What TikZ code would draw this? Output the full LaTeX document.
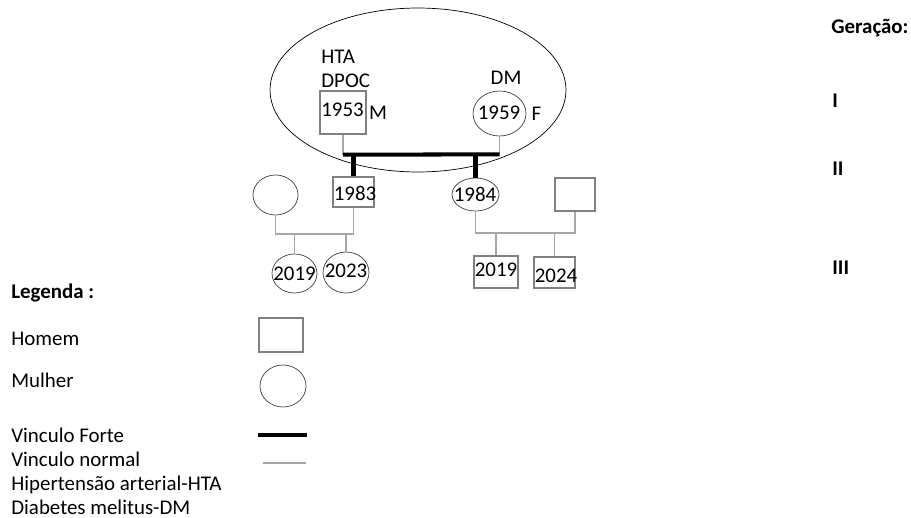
\documentclass[tikz,border=0pt]{standalone}
\usepackage{fontspec}
\setmainfont{Carlito}
\usepackage{tikz}
\usetikzlibrary{positioning,shapes.geometric}

\begin{document}
\begin{tikzpicture}[
  x=0.02cm, y=-0.02cm,
  font=\fontsize{11.9}{13.7}\selectfont,
  man/.style={draw=black!50, thick, rectangle, inner sep=0pt},
  woman/.style={draw=black!75, ellipse, inner sep=0pt},
  txt/.style={inner sep=0pt},
  lbl/.style={inner sep=0pt, anchor=base west},
  strong/.style={line width=2.3pt},
  normal/.style={draw=black!35, thick}
]
\useasboundingbox (0,0) rectangle (911,517);

% household
\node[draw, ellipse, minimum width=5.92cm, minimum height=3.28cm] (house) at (418,90) {};

% generation I
\node[man, minimum width=0.92cm, minimum height=0.86cm] (gf) at (343,112.5) {};
\node[txt] (gfyear) at (342.5,110) {1953};
\node[txt, right=0.04cm of gf] (gfsex) {M};
\node[inner sep=0pt, anchor=west, align=left] (gfdx) at (321,68.5) {HTA\\DPOC};
\node[woman, minimum width=1.06cm, minimum height=0.9cm] (gm) at (499.5,113.5) {};
\node[txt] (gmyear) at (499,113) {1959};
\node[txt, right=0.1cm of gm] (gmsex) {F};
\node[txt] (gmdx) at (506,78) {DM};

% generation II
\node[man, minimum width=0.82cm, minimum height=0.6cm] (son) at (353.5,192) {};
\node[txt] (sonyear) at (355,193) {1983};
\node[woman, minimum width=0.9cm, minimum height=0.8cm] (sonwife) at (275.5,195) {};
\node[woman, minimum width=0.94cm, minimum height=0.66cm] (dau) at (475.5,194.5) {};
\node[txt] (dauyear) at (475,194) {1984};
\node[man, minimum width=0.8cm, minimum height=0.66cm] (dauhusb) at (575,194.5) {};

% generation III
\node[woman, minimum width=0.9cm, minimum height=0.78cm] (gcA) at (294.5,273.5) {};
\node[txt] at (gcA) {2019};
\node[woman, minimum width=0.92cm, minimum height=0.82cm] (gcB) at (346,272.5) {};
\node[txt] at (346,271) {2023};
\node[man, minimum width=0.88cm, minimum height=0.64cm] (gcC) at (496,272) {};
\node[txt] at (496,270) {2019};
\node[man, minimum width=0.82cm, minimum height=0.62cm] (gcD) at (554.5,272.5) {};
\node[txt] at (556,276) {2024};

% couple
\path (gf.south) ++(0,20) coordinate (wedL);
\path (gm.south) ++(0,18) coordinate (wedR);
\draw[normal] (gf.south) -- (wedL);
\draw[normal] (gm.south) -- (wedR);
\draw[strong] (wedL) -- (wedR);
\draw[strong] (son.north |- wedL) -- (son.north);
\draw[strong] (dau.north |- wedL) -- (dau.north);

% children
\coordinate (barL) at (0,234);
\coordinate (barR) at (0,233);
\draw[normal] (sonwife.south) -- (sonwife.south |- barL) -- (son.south |- barL) -- (son.south);
\draw[normal] (gcA.north |- barL) -- (gcA.north);
\draw[normal] (gcB.north |- barL) -- (gcB.north);
\draw[normal] (dau.south) -- (dau.south |- barR) -- (dauhusb.south |- barR) -- (dauhusb.south);
\draw[normal] (gcC.north |- barR) -- (gcC.north);
\draw[normal] (gcD.north |- barR) -- (gcD.north);

% generations
\node[lbl] (gen) at (831,34) {\bfseries Geração:};
\node[lbl] (genI) at (832,107) {\bfseries I};
\node[lbl] (genII) at (832,175) {\bfseries II};
\node[lbl] (genIII) at (832,274) {\bfseries III};

% legend
\node[lbl] (leg) at (11,298) {\bfseries Legenda :};
\node[lbl] (legman) at (11,345) {Homem};
\node[lbl] (legwoman) at (11,387) {Mulher};
\node[lbl] (legstrong) at (11,442) {Vinculo Forte};
\node[lbl] (legnormal) at (11,466) {Vinculo normal};
\node[lbl] (leghta) at (11,490) {Hipertensão arterial-HTA};
\node[lbl] (legdm) at (11,514) {Diabetes melitus-DM};
\node[man, minimum width=0.88cm, minimum height=0.68cm] (legbox) at (281,335) {};
\node[woman, minimum width=0.92cm, minimum height=0.84cm] (legcirc) at (283,386) {};
\coordinate (lsA) at (258,435);
\coordinate (lsB) at (307,435);
\coordinate (lnA) at (263,463);
\coordinate (lnB) at (306,463);
\draw[strong] (lsA) -- (lsB);
\draw[normal] (lnA) -- (lnB);
\end{tikzpicture}
\end{document}
